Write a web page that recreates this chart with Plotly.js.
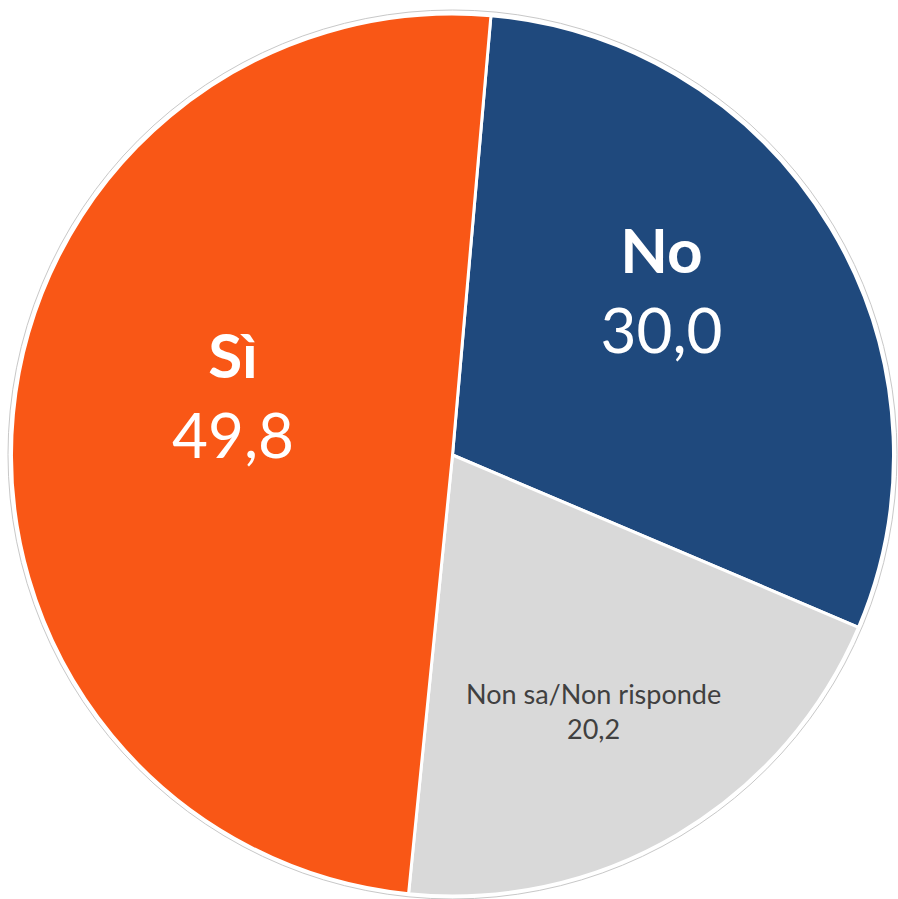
<!DOCTYPE html>
<html>
<head>
<meta charset="utf-8">
<script src="https://cdn.plot.ly/plotly-3.0.1.min.js"></script>
<style>html,body{margin:0;padding:0;background:#fff;}#chart{width:898px;height:899px;}</style>
</head>
<body>
<div id="chart"></div>
<script>
const labels = ["No", "Non sa/Non risponde", "Sì"];
const values = [30.0, 20.2, 49.8];
const colors = ["#1F497D", "#D9D9D9", "#F95716"];
const textColors = ["#FFFFFF", "#404040", "#FFFFFF"];
const textSizes = [62, 27, 62];
const templates = [
  "<b>%{label}</b><br>%{value:.1f}<br>&nbsp;",
  "&nbsp;<br>%{label}<br>%{value:.1f}",
  "<b>%{label}</b><br>%{value:.1f}<br>&nbsp;"
];

const W = 898, H = 899;
const cx = 452.5, cyTop = 455, R = 441;
function dom(r) {
  return {
    x: [(cx - r) / W, (cx + r) / W],
    y: [(H - cyTop - r) / H, (H - cyTop + r) / H]
  };
}

const outline = {
  type: "pie",
  values: [1],
  labels: ["outline"],
  marker: {colors: ["#FFFFFF"], line: {color: "#C8C8C8", width: 1}},
  textinfo: "none",
  hoverinfo: "skip",
  showlegend: false,
  sort: false,
  domain: dom(R + 4)
};

const main = {
  type: "pie",
  labels: labels,
  values: values,
  sort: false,
  direction: "clockwise",
  rotation: 5,
  marker: {colors: colors, line: {color: "#FFFFFF", width: 3}},
  texttemplate: templates,
  textposition: "inside",
  insidetextorientation: "horizontal",
  textfont: {family: "Lato, 'Noto Sans', sans-serif", size: textSizes, color: textColors},
  showlegend: false,
  hoverinfo: "label+value",
  domain: dom(R)
};

Plotly.newPlot("chart", [outline, main], {
  width: W, height: H,
  margin: {l: 0, r: 0, t: 0, b: 0},
  paper_bgcolor: "#FFFFFF",
  separators: ",.",
  showlegend: false
}, {displayModeBar: false, staticPlot: true});
</script>
</body>
</html>
